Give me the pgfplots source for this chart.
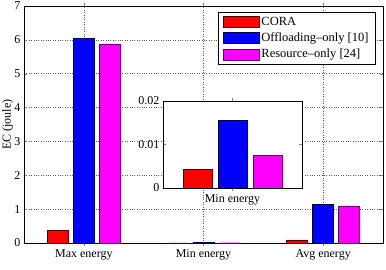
\documentclass[border=0pt]{standalone}
\usepackage{pgfplots}
\pgfplotsset{compat=1.18}
\usepackage{fontspec}
\setmainfont{Liberation Serif}
\definecolor{mag}{RGB}{255,0,255}
\begin{document}
\begin{tikzpicture}
\useasboundingbox (-24pt,-27pt) rectangle (362pt,243pt);
\begin{axis}[
  name=main,
  at={(0pt,0pt)}, anchor=south west,
  scale only axis, width=359pt, height=237pt,
  xmin=0.5, xmax=3.5, ymin=0, ymax=7,
  xtick={1,2,3}, xticklabels={Max energy,Min energy,Avg energy},
  ytick={0,1,2,3,4,5,6,7},
  xtick pos=both, ytick pos=both, tick align=inside,
  major tick length=3pt,
  grid=major, major grid style={dotted, black!65, line width=0.5pt},
  ylabel={EC (joule)}, ylabel style={at={(axis description cs:-0.045,0.5)}, anchor=center},
  /pgf/number format/assume math mode=true,
  tick label style={font=\fontsize{12}{14}\selectfont},
  label style={font=\fontsize{12}{14}\selectfont},
  axis line style={line width=0.6pt},
  ybar=5pt, bar width=21pt,
  legend style={at={(0.98,0.975)}, anchor=north east, font=\fontsize{12.5}{14}\selectfont,
    draw=black, line width=0.6pt, inner xsep=5pt, inner ysep=3pt, row sep=2pt, cells={anchor=west}},
  legend image code/.code={\draw[#1] (0pt,-5.5pt) rectangle (36pt,5.5pt);},
  clip=false,
]
\addplot[fill=red, draw=black!70!red] coordinates {(1,0.37) (2,0.0004) (3,0.09)};
\addplot[fill=blue, draw=black!70!blue] coordinates {(1,6.05) (2,0.0155) (3,1.15)};
\addplot[fill=mag, draw=black!60!mag] coordinates {(1,5.88) (2,0.0075) (3,1.10)};
\legend{CORA, Offloading--only [10], Resource--only [24]}
\end{axis}
\begin{axis}[
  at={(139pt,55pt)}, anchor=south west,
  scale only axis, width=139pt, height=87pt,
  xmin=0.5, xmax=1.5, ymin=0, ymax=0.02,
  xtick={1}, xticklabels={Min energy},
  ytick={0,0.01,0.02}, yticklabels={0,0.01,0.02},
  scaled y ticks=false,
  xtick pos=both, ytick pos=both, tick align=inside,
  major tick length=3pt,
  axis background/.style={fill=white},
  /pgf/number format/assume math mode=true,
  tick label style={font=\fontsize{12}{14}\selectfont},
  ybar=6pt, bar width=29pt,
  axis line style={line width=0.6pt},
]
\addplot[fill=red, draw=black!70!red] coordinates {(1,0.0043)};
\addplot[fill=blue, draw=black!70!blue] coordinates {(1,0.0156)};
\addplot[fill=mag, draw=black!60!mag] coordinates {(1,0.0076)};
\end{axis}
\end{tikzpicture}
\end{document}
